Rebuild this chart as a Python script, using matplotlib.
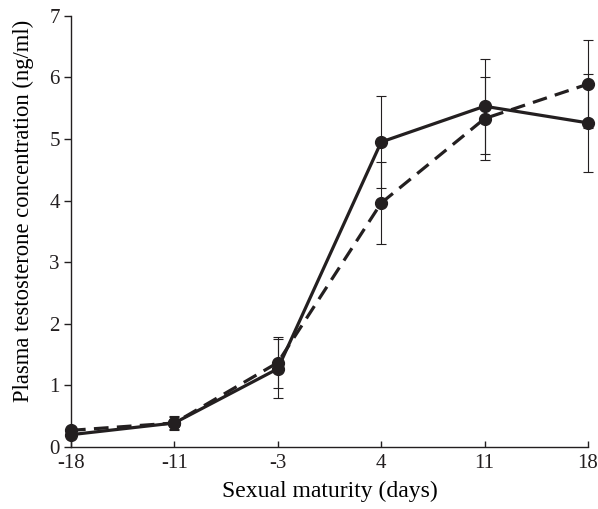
import matplotlib
matplotlib.use("Agg")
import matplotlib.pyplot as plt
import numpy as np

# Days relative to sexual maturity
days = ["-18", "-11", "-3", "4", "11", "18"]

# Solid series
solid_mean = [0.20, 0.39, 1.27, 4.95, 5.53, 5.26]
solid_err = [0.06, 0.10, 0.48, 0.75, 0.77, 0.80]

# Dashed series
dashed_mean = [0.27, 0.39, 1.37, 3.96, 5.33, 5.89]
dashed_err = [0.05, 0.12, 0.42, 0.66, 0.67, 0.71]

INK = "#231f20"

plt.rcParams["font.family"] = ["Liberation Serif", "DejaVu Serif"]

fig = plt.figure(figsize=(5.98, 5.09), dpi=100)
ax = fig.add_axes([0.1187, 0.1218, 0.8646, 0.8474])

x = np.arange(len(days))

for mean, err, ls, z in [(dashed_mean, dashed_err, (0, (4.6, 2.6)), 3),
                         (solid_mean, solid_err, "-", 4)]:
    cont = ax.errorbar(x, mean, yerr=err, color=INK, lw=2.3, ls=ls,
                       marker="o", ms=8.5, ecolor=INK, elinewidth=0.8,
                       capsize=3.3, capthick=0.8, zorder=z)
    cont[0].set_clip_on(False)
    for art in cont[1]:
        art.set_clip_on(False)
    for art in cont[2]:
        art.set_clip_on(False)

ax.set_xlim(0, len(days) - 1)
ax.set_ylim(0, 7)
ax.set_xticks(x)
ax.set_xticklabels(days)
ax.set_yticks(range(0, 8))

ax.spines["top"].set_visible(False)
ax.spines["right"].set_visible(False)
for s in ("left", "bottom"):
    ax.spines[s].set_color(INK)
    ax.spines[s].set_linewidth(1.0)

ax.tick_params(axis="x", direction="in", length=4, width=1.0, color=INK, labelsize=15, pad=5)
ax.tick_params(axis="y", direction="out", length=5, width=1.0, color=INK, labelsize=15, pad=3)

ax.set_xlabel("Sexual maturity (days)", fontsize=17, labelpad=6)
ax.set_ylabel("Plasma testosterone concentration (ng/ml)", fontsize=16.3)
ax.yaxis.set_label_coords(-0.071, 0.548)

for lbl in ax.get_xticklabels() + ax.get_yticklabels():
    lbl.set_color(INK)

fig.savefig("out.png", dpi=100)
plt.close(fig)
